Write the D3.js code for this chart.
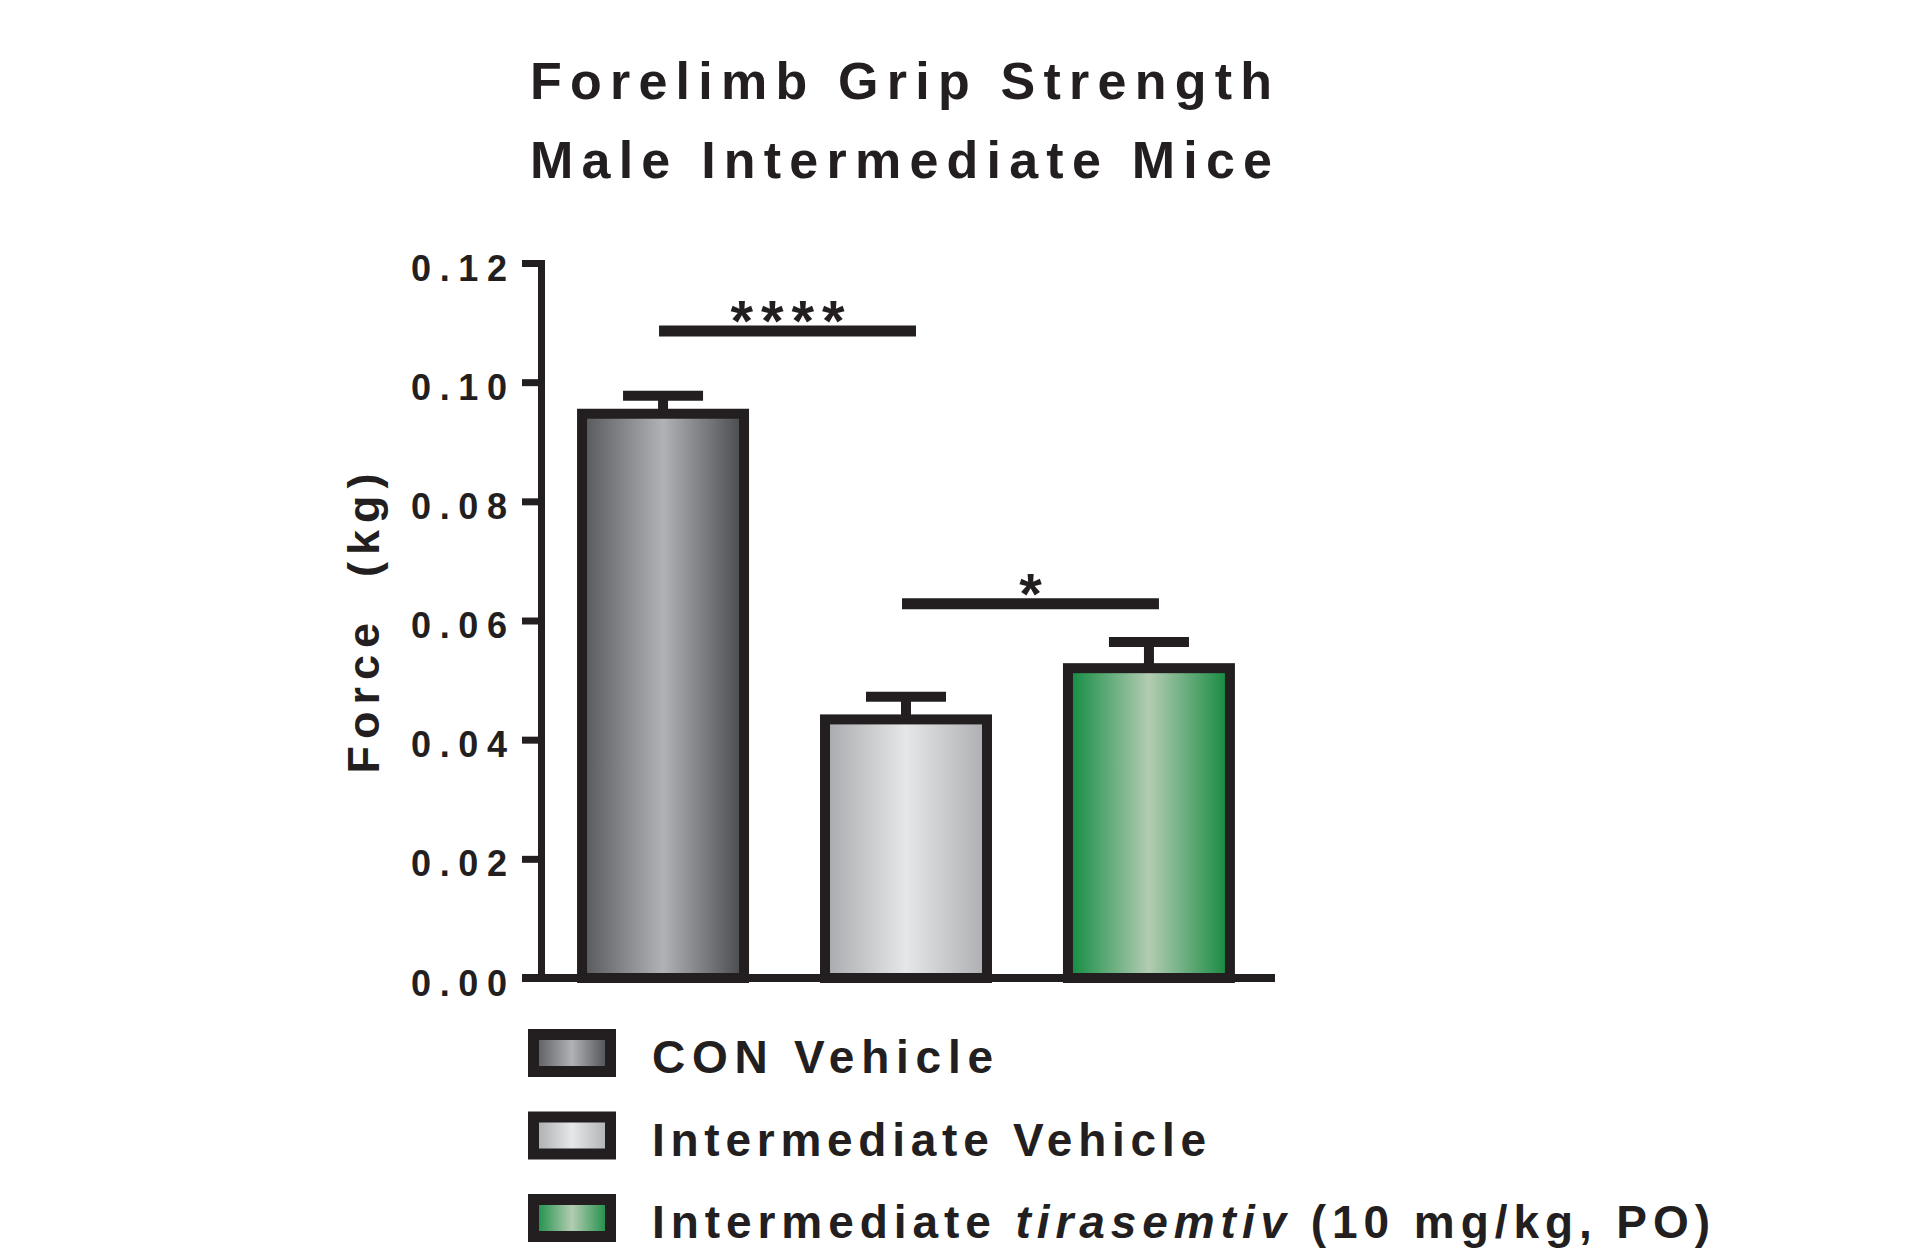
<!DOCTYPE html>
<html>
<head>
<meta charset="utf-8">
<script src="https://cdn.jsdelivr.net/npm/d3@7"></script>
<style>
  html, body { margin: 0; padding: 0; background: #ffffff; }
  svg { display: block; }
  text { font-family: "Liberation Sans", Arial, Helvetica, sans-serif; font-weight: bold; fill: #231f20; }
</style>
</head>
<body>
<svg id="chart" width="1917" height="1259"></svg>
<script>
// ---- data ----
const groups = ["CON Vehicle", "Intermediate Vehicle", "Intermediate tirasemtiv"];
const means = [0.0947, 0.0434, 0.0520];          // Force (kg), group means
const sems = [0.0030, 0.0038, 0.0044];           // standard error of the mean
const yTicks = [0, 0.02, 0.04, 0.06, 0.08, 0.10, 0.12];
const sigFrom = [0, 1];
const sigTo = [1, 2];
const sigLevel = [0.1086, 0.0628];
const sigLabels = ["****", "*"];
const titleLines = ["Forelimb Grip Strength", "Male Intermediate Mice"];
const yAxisLabel = "Force  (kg)";

// ---- styling ----
const ink = "#231f20";
const gradientStops = [
  ["#56575a", "#b0b2b5", "#48494c"],
  ["#a7a9ac", "#e6e7e8", "#abadb0"],
  ["#0f8a3f", "#b3ccb2", "#12883e"]
];

const svg = d3.select("#chart");

const y = d3.scaleLinear().domain([0, 0.12]).range([978, 263]);
const x = d3.scaleBand()
  .domain(groups)
  .range([541, 1271])
  .paddingInner(1 / 3)
  .paddingOuter(0.169);
const bw = x.bandwidth();
const cx = i => x(groups[i]) + bw / 2;

// gradients: dark edges, light centre stripe
const defs = svg.append("defs");
gradientStops.forEach((stops, i) => {
  const g = defs.append("linearGradient")
    .attr("id", "fill" + i)
    .attr("x1", 0).attr("x2", 1).attr("y1", 0).attr("y2", 0);
  stops.forEach((c, k) => g.append("stop").attr("offset", k / 2).attr("stop-color", c));
});

// title
svg.append("g").selectAll("text")
  .data(titleLines)
  .join("text")
  .attr("x", 530)
  .attr("y", (d, i) => 99 + i * 79)
  .attr("font-size", 52)
  .attr("textLength", 742)
  .attr("lengthAdjust", "spacing")
  .text(d => d);

// bars
const bars = svg.append("g");
bars.selectAll("rect")
  .data(means)
  .join("rect")
  .attr("x", (d, i) => x(groups[i]))
  .attr("width", bw)
  .attr("y", d => y(d))
  .attr("height", d => y(0) - y(d))
  .attr("fill", (d, i) => `url(#fill${i})`)
  .attr("stroke", ink)
  .attr("stroke-width", 10);

// error bars (upper only)
const err = svg.append("g").attr("stroke", ink).attr("stroke-width", 10);
means.forEach((m, i) => {
  err.append("line")
    .attr("x1", cx(i)).attr("x2", cx(i))
    .attr("y1", y(m)).attr("y2", y(m + sems[i]));
  err.append("line")
    .attr("x1", cx(i) - 40).attr("x2", cx(i) + 40)
    .attr("y1", y(m + sems[i])).attr("y2", y(m + sems[i]));
});

// y axis
const yAxis = svg.append("g")
  .attr("transform", "translate(541,0)")
  .call(d3.axisLeft(y).tickValues(yTicks).tickSize(19).tickSizeOuter(0).tickFormat(d3.format(".2f")));
yAxis.select(".domain")
  .attr("stroke", ink).attr("stroke-width", 7).attr("stroke-linecap", "square");
yAxis.selectAll(".tick line")
  .attr("stroke", ink).attr("stroke-width", 7);
yAxis.selectAll(".tick text")
  .attr("x", -34)
  .attr("dy", 17)
  .attr("font-size", 36)
  .attr("font-family", null)
  .attr("fill", ink)
  .attr("textLength", 96)
  .attr("lengthAdjust", "spacing");
yAxis.attr("font-family", null).attr("font-size", null);

// x axis baseline
svg.append("line")
  .attr("x1", 522).attr("x2", x.range()[1] + 4)
  .attr("y1", y(0)).attr("y2", y(0))
  .attr("stroke", ink).attr("stroke-width", 8);

// y axis title
svg.append("text")
  .attr("transform", `translate(379,${(y(0) + y(0.12)) / 2 + 3}) rotate(-90)`)
  .attr("text-anchor", "middle")
  .attr("font-size", 45)
  .attr("textLength", 300)
  .attr("lengthAdjust", "spacing")
  .style("white-space", "pre")
  .text(yAxisLabel);

// significance brackets
const sig = svg.append("g");
sigLabels.forEach((lab, i) => {
  const x1 = cx(sigFrom[i]) - 4;
  const x2 = cx(sigTo[i]) + 10;
  const ly = y(sigLevel[i]);
  sig.append("line")
    .attr("x1", x1).attr("x2", x2)
    .attr("y1", ly).attr("y2", ly)
    .attr("stroke", ink).attr("stroke-width", 11);
  const t = sig.append("text")
    .attr("x", (x1 + x2) / 2)
    .attr("y", ly + 10)
    .attr("text-anchor", "middle")
    .attr("font-size", 58)
    .text(lab);
  if (lab.length > 1) t.attr("textLength", 114).attr("lengthAdjust", "spacing");
});

// legend
const legendLengths = [341, 554, 1058];
const legend = svg.append("g");
groups.forEach((g, i) => {
  const rowY = 1053 + i * 82.5;
  legend.append("rect")
    .attr("x", 533.5).attr("y", rowY - 18.5)
    .attr("width", 77).attr("height", 37)
    .attr("fill", `url(#fill${i})`)
    .attr("stroke", ink).attr("stroke-width", 11);
  const t = legend.append("text")
    .attr("x", 652)
    .attr("y", rowY + 20)
    .attr("font-size", 46)
    .attr("textLength", legendLengths[i])
    .attr("lengthAdjust", "spacing")
    .style("white-space", "pre");
  if (i === 2) {
    t.append("tspan").text("Intermediate ");
    t.append("tspan").attr("font-style", "italic").text("tirasemtiv");
    t.append("tspan").text(" (10 mg/kg, PO)");
  } else {
    t.text(g);
  }
});
</script>
</body>
</html>
